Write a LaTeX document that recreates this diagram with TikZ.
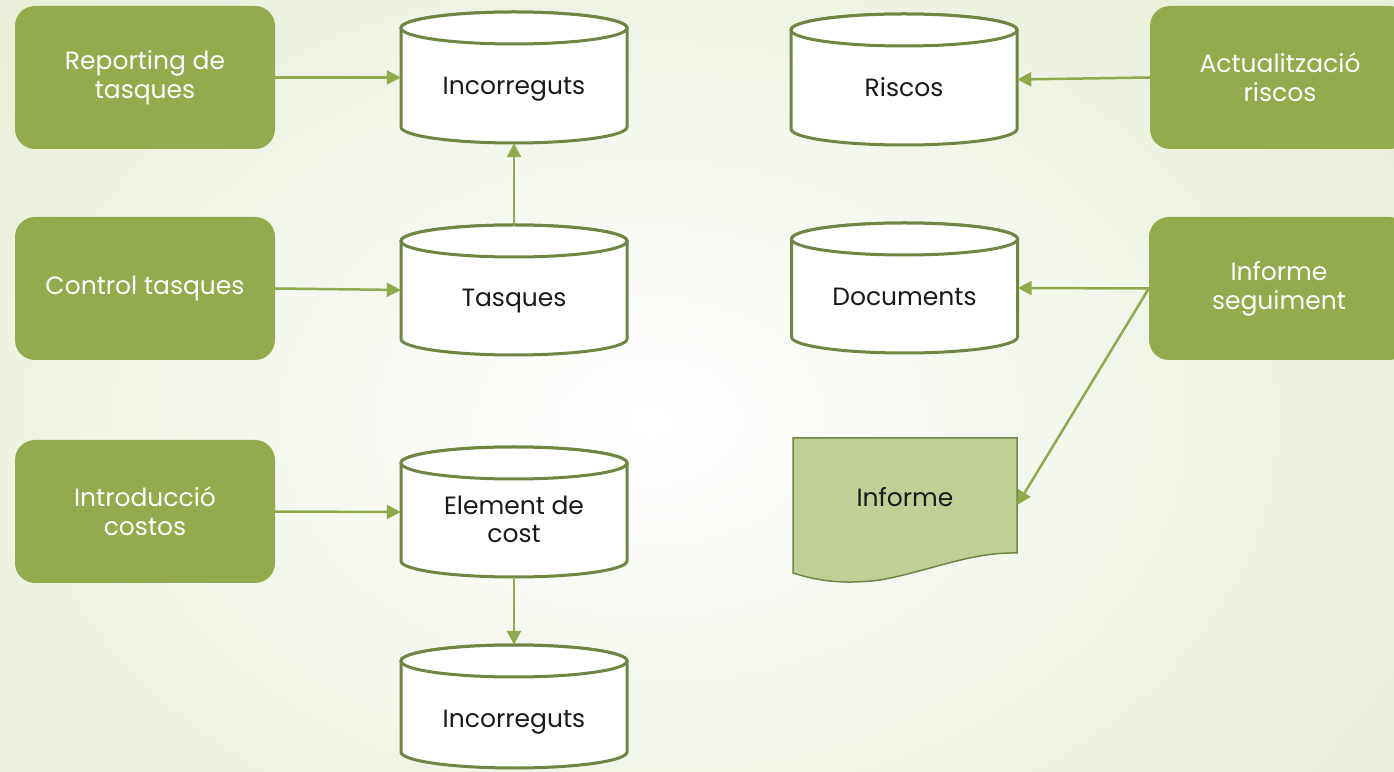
\documentclass[tikz,border=0pt]{standalone}
\usepackage{fontspec}
\setmainfont{Poppins}
\usetikzlibrary{arrows.meta}
\definecolor{boxgreen}{HTML}{94AB4D}
\definecolor{cylgreen}{HTML}{6F8544}
\definecolor{arrgreen}{HTML}{8FAA4C}
\definecolor{docfill}{HTML}{C0CF95}
\definecolor{bgedge}{HTML}{E8EED8}
\definecolor{txtdark}{HTML}{1A1A1A}
\tikzset{
  procbox/.style={rectangle, rounded corners=20pt, fill=boxgreen, draw=none,
    minimum width=260pt, minimum height=143pt, text=white, align=center,
    font=\fontsize{25}{29}\selectfont},
  cylbox/.style={rectangle, draw=none, minimum width=226pt, inner sep=0pt},
  cylline/.style={draw=cylgreen, line width=3pt, fill=white},
  cyltext/.style={text=txtdark, align=center, font=\fontsize{25}{28}\selectfont},
  flow/.style={draw=arrgreen, line width=2.5pt, -{Triangle[length=14pt,width=14pt]}},
}
% #1 name, #2 centre x, #3 top y, #4 bottom y, #5 text shift, #6 text
\newcommand\dbcyl[6]{%
  \node[cylbox, minimum height={#3-#4}] (#1) at (#2,{(#3+#4)/2}) {};
  \filldraw[cylline] ({#2-113},{#3-16}) -- ({#2-113},{#4+16})
    arc[start angle=180,end angle=360,x radius=113,y radius=16]
    -- ({#2+113},{#3-16})
    arc[start angle=0,end angle=180,x radius=113,y radius=16] -- cycle;
  \draw[cylline] (#2,{#3-16}) ellipse[x radius=113,y radius=16];
  \node[cyltext] (#1t) at (#2,{(#3-16+#4)/2+#5}) {#6};
}
\begin{document}
\begin{tikzpicture}[x=1pt,y=1pt]
\useasboundingbox (0,0) rectangle (1394,771);
\clip (0,0) rectangle (1394,771);
\shade[inner color=white, outer color=bgedge] (-200,-250) rectangle (1500,950);

% process boxes
\node[procbox] (rep) at (145,693.5) {Reporting de\\tasques};
\node[procbox] (ctrl) at (145,482.5) {Control tasques};
\node[procbox] (intro) at (145,259.5) {Introducció\\costos};
\node[procbox] (act) at (1280,693.5) {Actualització\\riscos};
\node[procbox] (infseg) at (1279,482.5) {Informe\\seguiment};

% cylinders
\dbcyl{inc1}{514}{759}{628}{-4}{Incorreguts}
\dbcyl{tasq}{514}{546}{416}{-3}{Tasques}
\dbcyl{elem}{514}{324}{194}{1}{Element de\\cost}
\dbcyl{inc2}{514}{126}{3}{-8}{Incorreguts}
\dbcyl{risc}{904}{757}{626}{0}{Riscos}
\dbcyl{docs}{904.5}{548}{418}{-1}{Documents}

% document shape
\node[rectangle, draw=none, minimum width=224pt, minimum height=134pt] (informe) at (905,266) {};
\filldraw[draw=cylgreen, line width=1.5pt, fill=docfill]
  (793,333) -- (1017,333) -- (1017,218)
  .. controls (970,219) and (930,200) .. (880,191)
  .. controls (840,186) and (815,191) .. (793,198) -- cycle;
\node[text=txtdark, font=\fontsize{25}{28}\selectfont] (informet) at (905,274) {Informe};

% connectors
\draw[flow] (rep.east) -- (inc1.west);
\draw[flow] (tasq.north) -- (inc1.south);
\draw[flow] (ctrl.east) -- (tasq.west);
\draw[flow] (intro.east) -- (elem.west);
\draw[flow] (elem.south) -- (inc2.north);
\draw[flow] (act.west) -- (risc.east);
\draw[flow] (infseg.west) -- (docs.east);
\draw[flow] (infseg.west) -- (informe.east);
\end{tikzpicture}
\end{document}
